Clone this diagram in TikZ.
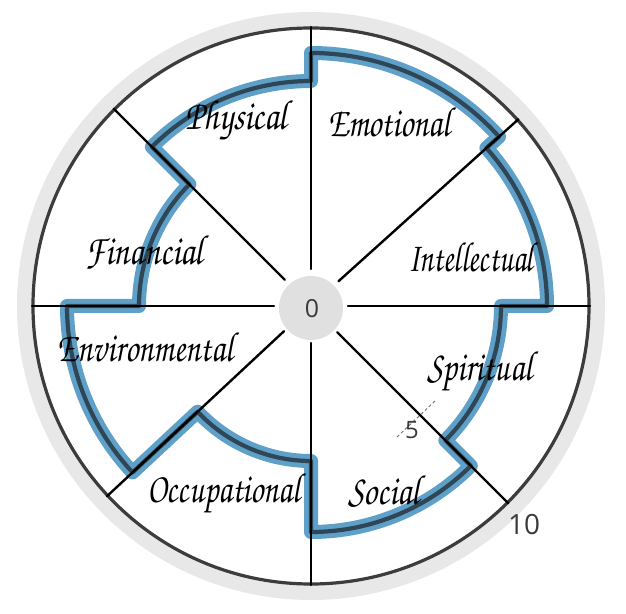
\documentclass[tikz,border=0pt]{standalone}
\usepackage[T1,TU]{fontenc}
\usepackage{fontspec}
\usepackage{graphicx}
\newfontfamily\numfont{Open Sans}
\newcommand{\handfont}{\fontencoding{T1}\fontfamily{pzc}\fontseries{mb}\fontshape{it}\selectfont}
\newcommand{\wlab}[2]{\resizebox{#1bp}{30bp}{#2}}
\definecolor{halo}{HTML}{E8E8E8}
\definecolor{rim}{HTML}{3C3C3C}
\definecolor{bandblue}{HTML}{5FA0C8}
\definecolor{banddark}{HTML}{2F4656}
\definecolor{hub}{HTML}{E0E0E0}
\definecolor{numgray}{HTML}{3A3A3A}
\definecolor{tickgray}{HTML}{777777}
\begin{document}
\begin{tikzpicture}[x=1bp,y=1bp,
  spoke/.style={line width=2.4bp, black, line cap=round},
  lab/.style={inner sep=0pt, anchor=base west, font=\handfont, text=black},
  num/.style={inner sep=0pt, font=\numfont, text=numgray},
  band/.style={line width=4.2bp, banddark, line join=round,
    preaction={draw, line width=14bp, bandblue, line join=round}}]
\useasboundingbox (-311,-308) rectangle (315,306);
% halo and rim
\fill[halo] (0,0) circle[radius=294];
\fill[white] (0,0) circle[radius=278];
\draw[rim, line width=3.2bp] (0,0) circle[radius=278];
% level band
\draw[band]
  (0:236) arc[start angle=0, end angle=42, radius=236]
  -- (42:253) arc[start angle=42, end angle=90, radius=253]
  -- (90:225) arc[start angle=90, end angle=135, radius=225]
  -- (135:172) arc[start angle=135, end angle=180, radius=172]
  -- (180:244) arc[start angle=180, end angle=223, radius=244]
  -- (223:155) arc[start angle=223, end angle=270, radius=155]
  -- (270:226) arc[start angle=270, end angle=315, radius=226]
  -- (315:190) arc[start angle=315, end angle=360, radius=190]
  -- cycle;
% spokes
\foreach \a in {0,42,90,135,180,223,270,315}
  \draw[spoke] (\a:37) -- (\a:279);
% hub
\fill[hub] (0,-2) circle[radius=32];
\node[num, font=\numfont\fontsize{25}{25}\selectfont] (zero) at (1,-3) {0};
% scale marks
\coordinate (tickA) at (86,-131);
\coordinate (tickB) at (124,-95);
\draw[tickgray, line width=1bp, dash pattern=on 3bp off 2.5bp] (tickA) -- (tickB);
\node[num, font=\numfont\fontsize{24}{24}\selectfont] (five) at (101,-124) {5};
\node[num, font=\numfont\fontsize{28}{28}\selectfont] (ten) at (213,-219) {10};
% labels
\node[lab] (physical) at (-126,176) {\wlab{102}{Physical}};
\node[lab] (emotional) at (17,169) {\wlab{122}{Emotional}};
\node[lab] (intellectual) at (97,34) {\wlab{125}{Intellectual}};
\node[lab] (financial) at (-226,41) {\wlab{118}{Financial}};
\node[lab] (environmental) at (-254,-56) {\wlab{176}{Environmental}};
\node[lab] (occupational) at (-164,-197) {\wlab{153}{Occupational}};
\node[lab] (spiritual) at (116,-75) {\wlab{105}{Spiritual}};
\node[lab] (social) at (37,-199) {\wlab{72}{Social}};
\end{tikzpicture}
\end{document}
